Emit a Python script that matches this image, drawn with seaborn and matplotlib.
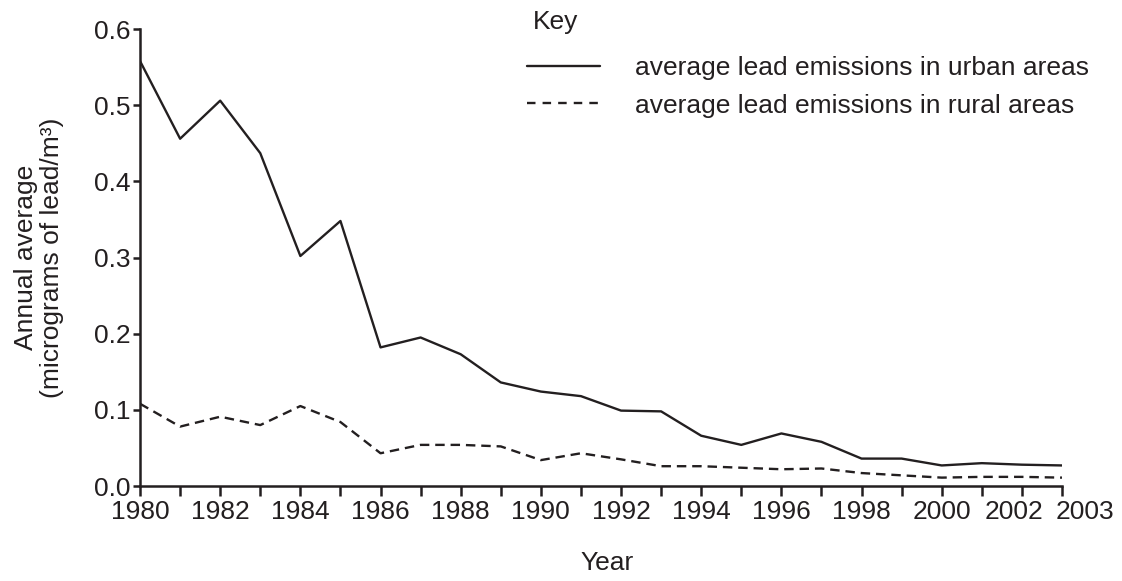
import matplotlib
matplotlib.use('Agg')
import matplotlib.pyplot as plt
import matplotlib.transforms as mtransforms
from matplotlib.lines import Line2D
import seaborn as sns
import pandas as pd

years = list(range(1980, 2004))
urban = [0.558, 0.456, 0.506, 0.437, 0.302, 0.348, 0.182, 0.195, 0.173, 0.136,
         0.124, 0.118, 0.099, 0.098, 0.066, 0.054, 0.069, 0.058, 0.036, 0.036,
         0.027, 0.030, 0.028, 0.027]
rural = [0.108, 0.078, 0.091, 0.080, 0.105, 0.084, 0.043, 0.054, 0.054, 0.052,
         0.034, 0.043, 0.035, 0.026, 0.026, 0.024, 0.022, 0.023, 0.017, 0.014,
         0.011, 0.012, 0.012, 0.011]
series_names = ['average lead emissions in urban areas',
                'average lead emissions in rural areas']
xtick_labels = ['1980', '1982', '1984', '1986', '1988', '1990', '1992',
                '1994', '1996', '1998', '2000', '2002', '2003']
yticks = [0.0, 0.1, 0.2, 0.3, 0.4, 0.5, 0.6]

df = pd.DataFrame({
    'Year': years * 2,
    'value': urban + rural,
    'series': [series_names[0]] * len(years) + [series_names[1]] * len(years),
})

sns.set_theme(style='ticks')
plt.rcParams['font.family'] = ['Liberation Sans', 'DejaVu Sans']
ink = '#231f20'
plt.rcParams['text.color'] = ink
plt.rcParams['axes.labelcolor'] = ink
plt.rcParams['xtick.color'] = ink
plt.rcParams['ytick.color'] = ink
fs = 19
lw = 1.7
dash = (4, 2.5)

fig = plt.figure(figsize=(11.22, 5.81), dpi=100)
ax = fig.add_axes([0.1248, 0.1635, 0.8217, 0.7865])

sns.lineplot(data=df, x='Year', y='value', hue='series', style='series',
             palette={series_names[0]: ink, series_names[1]: ink},
             dashes={series_names[0]: '', series_names[1]: dash},
             linewidth=lw, ax=ax, legend=False)
for ln in ax.get_lines():
    ln.set_solid_joinstyle('round')
    ln.set_dash_joinstyle('round')

ax.set_xlim(1980, 2003)
ax.set_ylim(0, 0.6)
ax.set_xticks(years)
ax.set_xticklabels([str(y) if str(y) in xtick_labels else '' for y in years])
ax.set_yticks(yticks)
ax.set_yticklabels([f'{v:.1f}' for v in yticks])
ax.tick_params(axis='both', labelsize=fs, width=1.8, direction='out')
ax.tick_params(axis='x', length=7, pad=3)
ax.tick_params(axis='y', length=5, pad=2)

# the last two year labels sit apart so they don't collide
for lab in ax.get_xticklabels():
    if lab.get_text() == '2002':
        lab.set_transform(lab.get_transform() + mtransforms.ScaledTranslation(-0.08, 0, fig.dpi_scale_trans))
    elif lab.get_text() == '2003':
        lab.set_transform(lab.get_transform() + mtransforms.ScaledTranslation(0.23, 0, fig.dpi_scale_trans))

sns.despine(ax=ax)
for s in ['left', 'bottom']:
    ax.spines[s].set_linewidth(1.8)
    ax.spines[s].set_color(ink)

ax.set_xlabel('Year', fontsize=fs)
ax.xaxis.set_label_coords(0.5065, -0.142)
ax.set_ylabel('Annual average\n(micrograms of lead/m³)', fontsize=fs, linespacing=1.1)
ax.yaxis.set_label_coords(-0.083, 0.5)

# key
handles = [Line2D([], [], color=ink, lw=lw),
           Line2D([], [], color=ink, lw=lw, linestyle=(0, (3.6, 3.0)))]
fig.text(533 / 1122, 1 - 22 / 581, 'Key', fontsize=fs, va='center', ha='left')
fig.legend(handles, series_names, loc='upper left',
           bbox_to_anchor=(527 / 1122, 1 - 56 / 581), frameon=False,
           fontsize=fs, handlelength=2.77, handletextpad=1.33, labelspacing=0.52,
           borderpad=0, borderaxespad=0)

fig.savefig('out.png', dpi=100)
